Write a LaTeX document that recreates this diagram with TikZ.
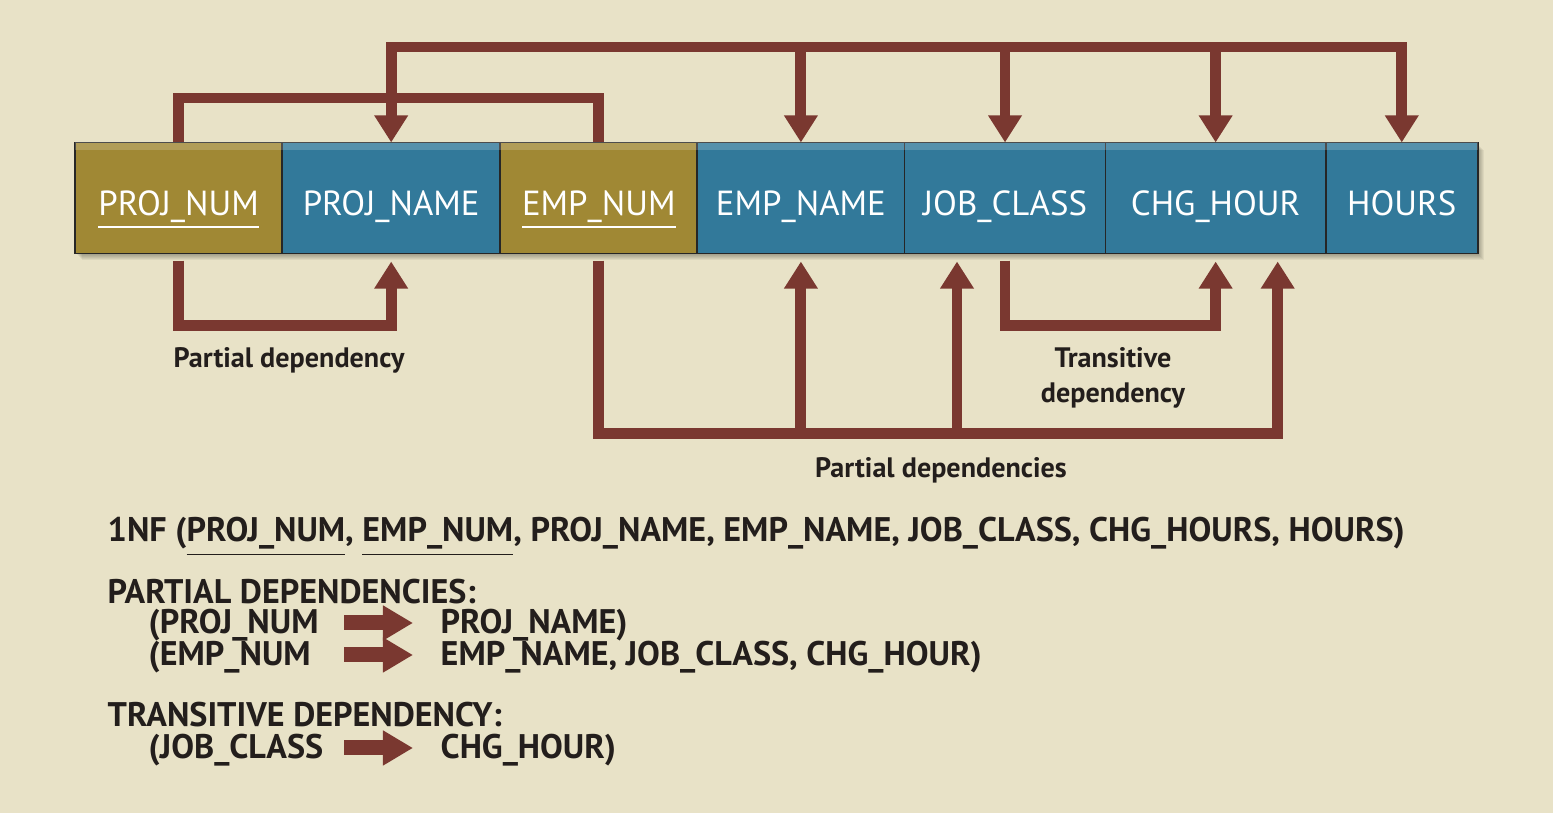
\documentclass[tikz,border=0pt]{standalone}
\usepackage{fontspec}
\setmainfont{PT Sans}
\usetikzlibrary{positioning,arrows.meta}
\definecolor{paper}{RGB}{232,226,199}
\definecolor{keygold}{RGB}{160,136,52}
\definecolor{attrblue}{RGB}{50,121,154}
\definecolor{deparrow}{RGB}{122,56,48}
\definecolor{inktext}{RGB}{35,30,28}
\begin{document}
\begin{tikzpicture}[x=0.01cm,y=-0.01cm,
    attr/.style={draw=black!85,line width=0.5pt,outer sep=0pt,minimum height=1.11cm,inner sep=0pt,
      text height=2.4ex,text depth=0.45ex,text=white,font=\fontsize{9.9}{11}\selectfont},
    keyattr/.style={attr,fill=keygold},
    nonkey/.style={attr,fill=attrblue},
    dep/.style={draw=deparrow,line width=3.1pt},
    deparr/.style={dep,-{Triangle[length=0.27cm,width=0.32cm]}},
    twotip/.style={dep,{Triangle[length=0.27cm,width=0.32cm]}-{Triangle[length=0.27cm,width=0.32cm]}},
    lbl/.style={text=inktext,font=\bfseries\fontsize{8}{10}\selectfont,align=center},
    nf/.style={anchor=base west,text=inktext,inner sep=0pt,font=\bfseries\fontsize{9.7}{11}\selectfont},
    fat/.style={draw=deparrow,line width=0.15cm,-{Triangle[length=0.30cm,width=0.33cm]}}]
  \useasboundingbox[fill=paper] (0,0) rectangle (1553,813);
  % shadow under the bar
  \foreach \s in {1,...,7}
    \fill[black,opacity=0.05] (75+\s,143+\s) rectangle (1477+\s,253+\s);
  % attributes
  \node[keyattr,minimum width=2.07cm,anchor=west] (pnum) at (75,198) {\underline{PROJ\_NUM}};
  \node[nonkey,minimum width=2.18cm,right=0pt of pnum] (pname) {PROJ\_NAME};
  \node[keyattr,minimum width=1.97cm,right=0pt of pname] (enum) {\underline{EMP\_NUM}};
  \node[nonkey,minimum width=2.07cm,right=0pt of enum] (ename) {EMP\_NAME};
  \node[nonkey,minimum width=2.01cm,right=0pt of ename] (jcls) {JOB\_CLASS};
  \node[nonkey,minimum width=2.20cm,right=0pt of jcls] (chg) {CHG\_HOUR};
  \node[nonkey,minimum width=1.52cm,right=0pt of chg] (hrs) {HOURS};
  \fill[white,opacity=0.18] (pnum.north west) rectangle ([yshift=-0.08cm]hrs.north east);
  % key determines everything
  \coordinate (upbus) at (0,47);
  \coordinate (keybus) at (0,98);
  \draw[dep] (pnum.north) -- (pnum.north |- keybus) -- (enum.north |- keybus) -- (enum.north);
  \draw[twotip] (pname.north) -- (pname.north |- upbus) -- (hrs.north |- upbus) -- (hrs.north);
  \foreach \t in {ename,jcls,chg}
    \draw[deparr] (\t.north |- upbus) -- (\t.north);
  % dependencies below
  \coordinate (lowbus) at (0,433);
  \coordinate (jcin) at ([xshift=-0.48cm]jcls.south);
  \coordinate (hrin) at ([xshift=0.62cm]chg.south);
  \draw[deparr,shorten <=0.07cm,shorten >=0.08cm] (pnum.south) -- ++(0,72) -| (pname.south);
  \draw[deparr,shorten <=0.07cm,shorten >=0.08cm] (enum.south) -- ++(0,180) -| (hrin);
  \draw[deparr,shorten >=0.08cm] (ename.south |- lowbus) -- (ename.south);
  \draw[deparr,shorten >=0.08cm] (jcin |- lowbus) -- (jcin);
  \draw[deparr,shorten <=0.07cm,shorten >=0.08cm] (jcls.south) -- ++(0,72) -| (chg.south);
  \node[lbl] (pdep) at (289,360) {Partial dependency};
  \node[lbl] (tdep) at (1113,378) {Transitive\\dependency};
  \node[lbl] (pdeps) at (941,470) {Partial dependencies};
  % relational schema
  \node[nf] (onenf) at (107,542) {1NF (\underline{PROJ\_NUM}, \underline{EMP\_NUM}, PROJ\_NAME, EMP\_NAME, JOB\_CLASS, CHG\_HOURS, HOURS)};
  \node[nf] (pdhead) at (107,604) {PARTIAL DEPENDENCIES:};
  \node[nf] (pd1l) at (148,634) {(PROJ\_NUM};
  \node[nf] (pd1r) at (440,634) {PROJ\_NAME)};
  \node[nf] (pd2l) at (148,666) {(EMP\_NUM};
  \node[nf] (pd2r) at (440,666) {EMP\_NAME, JOB\_CLASS, CHG\_HOUR)};
  \node[nf] (tdhead) at (107,727) {TRANSITIVE DEPENDENCY:};
  \node[nf] (td1l) at (148,759) {(JOB\_CLASS};
  \node[nf] (td1r) at (440,759) {CHG\_HOUR)};
  \foreach \y in {623,655,748}
    \draw[fat] (344,\y) -- (413,\y);
\end{tikzpicture}
\end{document}
